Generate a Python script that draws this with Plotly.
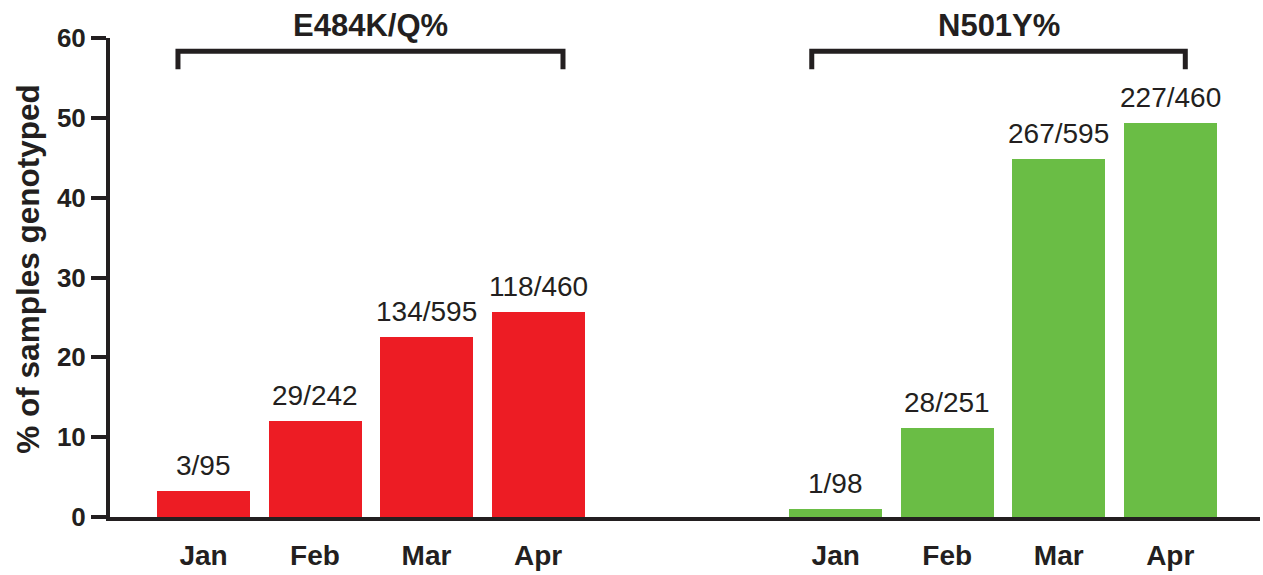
import plotly.graph_objects as go

# ---- data ----
months = ["Jan", "Feb", "Mar", "Apr"]
e484_pct = [3.2, 12.0, 22.5, 25.7]
e484_labels = ["3/95", "29/242", "134/595", "118/460"]
n501_pct = [1.0, 11.2, 44.9, 49.3]
n501_labels = ["1/98", "28/251", "267/595", "227/460"]
group_titles = ["E484K/Q%", "N501Y%"]
y_ticks = [0, 10, 20, 30, 40, 50, 60]

RED = "#ed1c24"
GREEN = "#6abd45"
INK = "#231f20"
FONT = "Liberation Sans, Arial, sans-serif"

# layout positions (x units; one unit = spacing between adjacent bars)
group_offset = [0.0, 5.67]
x_red = [group_offset[0] + i for i in range(len(months))]
x_green = [group_offset[1] + i for i in range(len(months))]
bar_w = 0.834

fig = go.Figure()
fig.add_trace(go.Bar(x=x_red, y=e484_pct, width=bar_w, marker=dict(color=RED, line=dict(width=0)),
                     name=group_titles[0], showlegend=False, hoverinfo="skip"))
fig.add_trace(go.Bar(x=x_green, y=n501_pct, width=bar_w, marker=dict(color=GREEN, line=dict(width=0)),
                     name=group_titles[1], showlegend=False, hoverinfo="skip"))

annotations = []
for xs, ys, labs in [(x_red, e484_pct, e484_labels), (x_green, n501_pct, n501_labels)]:
    for x, y, t in zip(xs, ys, labs):
        annotations.append(dict(x=x, y=y, xref="x", yref="y", text=t, showarrow=False,
                                yanchor="bottom", yshift=8,
                                font=dict(family=FONT, size=28, color=INK)))

# brackets + titles
shapes = []
bracket_spans = [(x_red[0] - 0.229, x_red[-1] + 0.224), (x_green[0] - 0.215, x_green[-1] + 0.135)]
for (x0, x1), title in zip(bracket_spans, group_titles):
    ytop, ybot = 58.35, 56.1
    shapes.append(dict(type="path", xref="x", yref="y",
                       path=f"M {x0},{ybot} L {x0},{ytop} L {x1},{ytop} L {x1},{ybot}",
                       line=dict(color=INK, width=5)))
    annotations.append(dict(x=(x0 + x1) / 2, y=1.027, xref="x", yref="paper", text=title,
                            showarrow=False, yanchor="middle",
                            font=dict(family=FONT, size=31, color=INK, weight="bold")))

# y axis title
annotations.append(dict(x=-0.0715, y=0.518, xref="paper", yref="paper",
                        text="% of samples genotyped", textangle=-90, showarrow=False,
                        xanchor="center", yanchor="middle",
                        font=dict(family=FONT, size=31.5, color=INK, weight="bold")))

tickvals = x_red + x_green
ticktext = months + months

fig.update_layout(
    width=1263, height=575,
    margin=dict(l=110, r=3, t=38, b=58, autoexpand=False),
    paper_bgcolor="white", plot_bgcolor="white",
    bargap=0,
    shapes=shapes, annotations=annotations,
    xaxis=dict(range=[-0.8386, 9.475], showgrid=False, zeroline=False, automargin=False,
               showline=True, linewidth=4, linecolor=INK,
               tickmode="array", tickvals=tickvals, ticktext=ticktext,
               ticks="", ticklabelstandoff=10,
               tickfont=dict(family=FONT, size=28, color=INK, weight="bold")),
    yaxis=dict(range=[0, 60], showgrid=False, zeroline=False, automargin=False,
               showline=True, linewidth=4, linecolor=INK,
               tickmode="array", tickvals=y_ticks,
               ticks="outside", ticklen=15, tickwidth=4, tickcolor=INK,
               tickfont=dict(family=FONT, size=26, color=INK, weight="bold")),
)

fig.write_html("out.html", config={"displayModeBar": False},
               post_script="document.body.style.margin='0';document.body.style.overflow='hidden';")
